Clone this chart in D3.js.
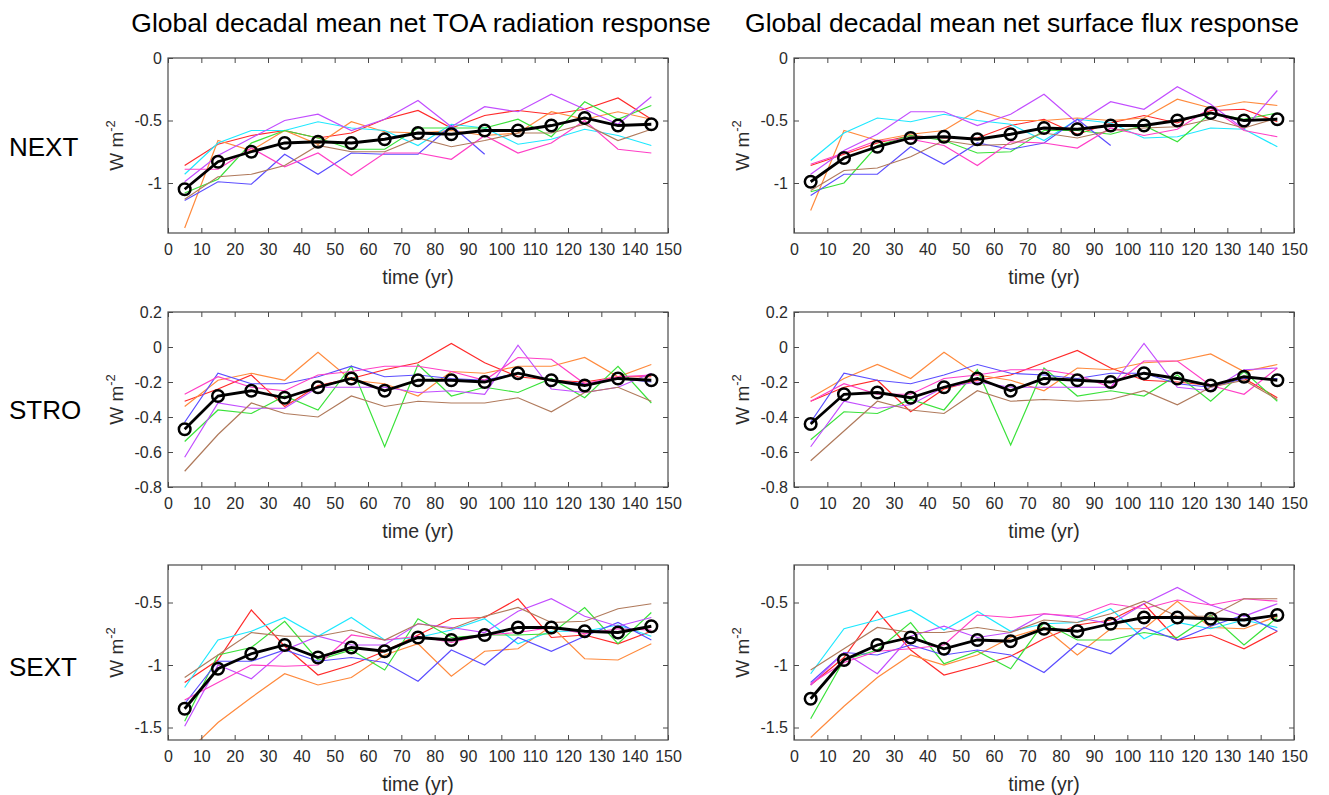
<!DOCTYPE html>
<html>
<head>
<meta charset="utf-8">
<script src="https://cdn.jsdelivr.net/npm/d3@7"></script>
<style>
body { margin: 0; background: #fff; }
text { font-family: "Liberation Sans", Arial, sans-serif; }
</style>
</head>
<body>
<svg id="chart" width="1329" height="795"></svg>
<script>
// decade midpoints
const years = [5, 15, 25, 35, 45, 55, 65, 75, 85, 95, 105, 115, 125, 135, 145];
const xTicks = [0, 10, 20, 30, 40, 50, 60, 70, 80, 90, 100, 110, 120, 130, 140, 150];
const members = ["red", "orange", "cyan", "green", "blue", "purple", "pink", "brown"];
const titles = ["Global decadal mean net TOA radiation response", "Global decadal mean net surface flux response"];
const rowNames = ["NEXT", "STRO", "SEXT"];

// NEXT, TOA
const nextToa = [
  [-0.86,-0.69,-0.62,-0.58,-0.64,-0.60,-0.49,-0.42,-0.56,-0.46,-0.42,-0.45,-0.41,-0.32,-0.49],
  [-1.36,-0.66,-0.74,-0.58,-0.69,-0.51,-0.59,-0.60,-0.58,-0.62,-0.60,-0.43,-0.49,-0.43,-0.49],
  [-0.93,-0.68,-0.58,-0.58,-0.51,-0.56,-0.58,-0.70,-0.53,-0.56,-0.69,-0.65,-0.57,-0.62,-0.70],
  [-1.08,-0.97,-0.68,-0.58,-0.64,-0.73,-0.73,-0.56,-0.56,-0.56,-0.49,-0.63,-0.35,-0.49,-0.38],
  [-1.14,-0.99,-1.01,-0.77,-0.93,-0.76,-0.77,-0.77,-0.54,-0.77,null,null,null,null,null],
  [-0.99,-0.78,-0.64,-0.50,-0.45,-0.58,-0.49,-0.34,-0.55,-0.39,-0.43,-0.29,-0.41,-0.53,-0.31],
  [-0.89,-0.89,-0.72,-0.87,-0.76,-0.94,-0.76,-0.76,-0.81,-0.62,-0.76,-0.68,-0.50,-0.73,-0.76],
  [-1.13,-0.95,-0.93,-0.86,-0.70,-0.75,-0.75,-0.64,-0.71,-0.66,-0.60,-0.60,-0.53,-0.66,-0.57]
];
const nextToaMean = [-1.05,-0.83,-0.75,-0.68,-0.67,-0.68,-0.65,-0.60,-0.61,-0.58,-0.58,-0.54,-0.48,-0.54,-0.53];

// NEXT, surface
const nextSfc = [
  [-0.86,-0.77,-0.68,-0.62,-0.64,-0.64,-0.54,-0.49,-0.61,-0.52,-0.46,-0.52,-0.42,-0.41,-0.51],
  [-1.22,-0.58,-0.66,-0.61,-0.58,-0.42,-0.50,-0.50,-0.48,-0.50,-0.48,-0.33,-0.40,-0.35,-0.38],
  [-0.82,-0.60,-0.48,-0.51,-0.45,-0.50,-0.53,-0.66,-0.49,-0.52,-0.64,-0.63,-0.56,-0.57,-0.71],
  [-1.07,-1.00,-0.70,-0.62,-0.66,-0.76,-0.75,-0.58,-0.58,-0.61,-0.54,-0.67,-0.44,-0.49,-0.44],
  [-1.10,-0.93,-0.93,-0.71,-0.85,-0.68,-0.73,-0.68,-0.49,-0.70,null,null,null,null,null],
  [-0.93,-0.74,-0.61,-0.43,-0.43,-0.54,-0.45,-0.29,-0.52,-0.35,-0.41,-0.23,-0.37,-0.57,-0.26],
  [-0.85,-0.76,-0.66,-0.65,-0.70,-0.86,-0.67,-0.68,-0.72,-0.56,-0.62,-0.57,-0.40,-0.58,-0.63],
  [-1.06,-0.90,-0.88,-0.79,-0.66,-0.70,-0.69,-0.60,-0.64,-0.58,-0.56,-0.55,-0.49,-0.56,-0.48]
];
const nextSfcMean = [-0.99,-0.80,-0.71,-0.64,-0.63,-0.65,-0.61,-0.56,-0.57,-0.54,-0.54,-0.50,-0.44,-0.50,-0.49];

// STRO, TOA (no cyan member here)
const stroToa = [
  [-0.31,-0.24,-0.16,-0.34,-0.22,-0.18,-0.13,-0.09,0.02,-0.09,-0.17,-0.19,-0.20,-0.17,-0.17],
  [-0.34,-0.19,-0.15,-0.19,-0.03,-0.19,-0.21,-0.28,-0.14,-0.15,-0.11,-0.11,-0.06,-0.17,-0.10],
  null,
  [-0.54,-0.36,-0.38,-0.28,-0.36,-0.11,-0.57,-0.10,-0.28,-0.23,-0.26,-0.18,-0.29,-0.11,-0.32],
  [-0.43,-0.15,-0.21,-0.21,-0.17,-0.11,-0.17,-0.16,-0.18,-0.19,-0.15,-0.19,-0.21,-0.18,-0.20],
  [-0.63,-0.32,-0.35,-0.35,-0.23,-0.23,-0.23,-0.26,-0.25,-0.27,0.01,-0.24,-0.26,-0.23,-0.15],
  [-0.27,-0.17,-0.23,-0.25,-0.16,-0.14,-0.11,-0.11,-0.14,-0.19,-0.06,-0.07,-0.21,-0.17,-0.16],
  [-0.71,-0.50,-0.32,-0.38,-0.40,-0.28,-0.34,-0.31,-0.32,-0.32,-0.29,-0.37,-0.26,-0.23,-0.31]
];
const stroToaMean = [-0.47,-0.28,-0.25,-0.29,-0.23,-0.18,-0.25,-0.19,-0.19,-0.20,-0.15,-0.19,-0.22,-0.18,-0.19];

// STRO, surface
const stroSfc = [
  [-0.31,-0.23,-0.19,-0.37,-0.24,-0.19,-0.16,-0.09,-0.02,-0.12,-0.19,-0.20,-0.22,-0.18,-0.29],
  [-0.29,-0.18,-0.10,-0.18,-0.03,-0.16,-0.19,-0.25,-0.12,-0.13,-0.09,-0.08,-0.04,-0.14,-0.10],
  null,
  [-0.53,-0.37,-0.38,-0.30,-0.36,-0.13,-0.56,-0.12,-0.28,-0.25,-0.28,-0.16,-0.31,-0.14,-0.31],
  [-0.43,-0.15,-0.19,-0.21,-0.16,-0.10,-0.15,-0.16,-0.18,-0.15,-0.15,-0.21,-0.23,-0.18,-0.18],
  [-0.57,-0.31,-0.35,-0.33,-0.23,-0.20,-0.23,-0.23,-0.23,-0.23,0.02,-0.23,-0.25,-0.13,-0.12],
  [-0.31,-0.21,-0.27,-0.27,-0.18,-0.16,-0.13,-0.13,-0.16,-0.23,-0.08,-0.08,-0.22,-0.27,-0.12],
  [-0.65,-0.48,-0.31,-0.36,-0.38,-0.25,-0.31,-0.30,-0.31,-0.30,-0.25,-0.33,-0.23,-0.19,-0.30]
];
const stroSfcMean = [-0.44,-0.27,-0.26,-0.29,-0.23,-0.18,-0.25,-0.18,-0.19,-0.20,-0.15,-0.18,-0.22,-0.17,-0.19];

// SEXT, TOA
const sextToa = [
  [-1.14,-0.96,-0.56,-0.85,-1.08,-1.00,-0.89,-0.76,-0.63,-0.62,-0.47,-0.78,-0.76,-0.83,-0.73],
  [-1.72,-1.46,-1.26,-1.07,-1.16,-1.10,-0.92,-0.83,-1.09,-0.89,-0.87,-0.69,-0.95,-0.96,-0.83],
  [-1.18,-0.80,-0.73,-0.62,-0.77,-0.62,-0.80,-0.78,-0.72,-0.63,-0.83,-0.73,-0.73,-0.68,-0.77],
  [-1.45,-0.92,-0.86,-0.65,-0.96,-0.88,-1.04,-0.63,-0.78,-0.76,-0.76,-0.75,-0.54,-0.83,-0.58],
  [-1.31,-0.97,-0.97,-0.88,-0.97,-0.94,-0.98,-1.13,-0.88,-1.00,-0.78,-0.89,-0.77,-0.66,-0.80],
  [-1.49,-1.00,-1.11,-0.88,-0.77,-0.84,-0.84,-0.67,-0.70,-0.74,-0.57,-0.47,-0.61,-0.69,-0.62],
  [-1.28,-1.14,-1.00,-1.01,-1.00,-0.76,-0.80,-0.77,-0.82,-0.76,-0.74,-0.70,-0.75,-0.71,-0.72],
  [-1.10,-0.92,-0.74,-0.77,-0.77,-0.72,-0.80,-0.67,-0.71,-0.61,-0.54,-0.66,-0.65,-0.55,-0.51]
];
const sextToaMean = [-1.35,-1.03,-0.91,-0.84,-0.94,-0.86,-0.89,-0.78,-0.80,-0.76,-0.70,-0.70,-0.73,-0.74,-0.69];

// SEXT, surface
const sextSfc = [
  [-1.16,-0.94,-0.57,-0.88,-1.08,-1.01,-0.93,-0.79,-0.68,-0.64,-0.51,-0.80,-0.76,-0.87,-0.73],
  [-1.58,-1.33,-1.10,-0.92,-1.00,-0.92,-0.78,-0.70,-0.92,-0.71,-0.71,-0.49,-0.70,-0.71,-0.61],
  [-1.07,-0.71,-0.64,-0.56,-0.72,-0.57,-0.73,-0.67,-0.66,-0.55,-0.79,-0.66,-0.71,-0.64,-0.70],
  [-1.43,-0.96,-0.88,-0.66,-0.99,-0.89,-1.03,-0.66,-0.80,-0.80,-0.74,-0.78,-0.60,-0.84,-0.62],
  [-1.14,-0.90,-0.92,-0.84,-0.92,-0.88,-0.92,-1.06,-0.83,-0.91,-0.70,-0.80,-0.69,-0.60,-0.73],
  [-1.16,-0.90,-1.07,-0.77,-0.69,-0.78,-0.74,-0.59,-0.62,-0.67,-0.51,-0.38,-0.52,-0.61,-0.51],
  [-1.15,-0.98,-0.89,-0.87,-0.84,-0.60,-0.62,-0.59,-0.61,-0.51,-0.55,-0.48,-0.52,-0.47,-0.49],
  [-1.04,-0.87,-0.70,-0.74,-0.74,-0.70,-0.74,-0.64,-0.66,-0.59,-0.49,-0.61,-0.61,-0.47,-0.47]
];
const sextSfcMean = [-1.27,-0.96,-0.84,-0.78,-0.87,-0.80,-0.81,-0.71,-0.73,-0.67,-0.62,-0.62,-0.63,-0.64,-0.60];

const rowTicks = [[0, -0.5, -1], [0.2, 0, -0.2, -0.4, -0.6, -0.8], [-0.5, -1, -1.5]];
const rowDomains = [[-1.4, 0], [-0.8, 0.2], [-1.6, -0.2]];

const colors = {
  red: "#ff2a2a", orange: "#ff8a3d", cyan: "#1ee8ff", green: "#3ae23a",
  blue: "#5b4dff", purple: "#c24dff", pink: "#ff3fc6", brown: "#b07a5c"
};

const svg = d3.select("#chart");
const W = 500, H = 175;
const colX = [168, 794];
const rowY = [58, 312, 565];
const axisColor = "#4a4a4a";
const textColor = "#2b2b2b";

const panels = [
  { row: 0, col: 0, runs: nextToa, mean: nextToaMean },
  { row: 0, col: 1, runs: nextSfc, mean: nextSfcMean },
  { row: 1, col: 0, runs: stroToa, mean: stroToaMean },
  { row: 1, col: 1, runs: stroSfc, mean: stroSfcMean },
  { row: 2, col: 0, runs: sextToa, mean: sextToaMean },
  { row: 2, col: 1, runs: sextSfc, mean: sextSfcMean }
];

panels.forEach((p, i) => drawPanel(p, i));

function drawPanel(p, i) {
  let g = svg.append("g").attr("transform", `translate(${colX[p.col]},${rowY[p.row]})`);
  let x = d3.scaleLinear().domain([0, 150]).range([0, W]);
  let y = d3.scaleLinear().domain(rowDomains[p.row]).range([H, 0]);

  g.append("clipPath").attr("id", "clip" + i)
    .append("rect").attr("width", W).attr("height", H);

  let plot = g.append("g").attr("clip-path", `url(#clip${i})`);
  let line = d3.line()
    .defined(d => d[1] != null)
    .x(d => x(d[0]))
    .y(d => y(d[1]));

  p.runs.forEach((run, k) => {
    if (!run) return;
    plot.append("path")
      .attr("d", line(years.map((yr, j) => [yr, run[j]])))
      .attr("fill", "none")
      .attr("stroke", colors[members[k]])
      .attr("stroke-width", 1.2);
  });

  let meanPts = years.map((yr, j) => [yr, p.mean[j]]);
  plot.append("path")
    .attr("d", line(meanPts))
    .attr("fill", "none")
    .attr("stroke", "#000")
    .attr("stroke-width", 2.8);
  plot.selectAll("circle.m").data(meanPts).enter()
    .append("circle")
    .attr("cx", d => x(d[0]))
    .attr("cy", d => y(d[1]))
    .attr("r", 5.8)
    .attr("fill", "none")
    .attr("stroke", "#000")
    .attr("stroke-width", 2.5);

  // axes, ticks pointing inward like matlab
  g.append("g").attr("transform", `translate(0,${H})`)
    .call(d3.axisBottom(x).tickValues(xTicks).tickSizeInner(-5).tickSizeOuter(0).tickPadding(11));
  g.append("g")
    .call(d3.axisLeft(y).tickValues(rowTicks[p.row]).tickSizeInner(-5).tickSizeOuter(0).tickPadding(6)
      .tickFormat(d => String(d)));
  g.append("g").call(d3.axisTop(x).tickValues(xTicks).tickSizeInner(-5).tickSizeOuter(0).tickFormat(""));
  g.append("g").attr("transform", `translate(${W},0)`)
    .call(d3.axisRight(y).tickValues(rowTicks[p.row]).tickSizeInner(-5).tickSizeOuter(0).tickFormat(""));

  g.selectAll(".domain").remove();
  g.selectAll(".tick line").attr("stroke", axisColor);
  g.selectAll(".tick text").attr("fill", textColor).style("font-size", "16px");

  g.append("rect")
    .attr("width", W).attr("height", H)
    .attr("fill", "none")
    .attr("stroke", axisColor)
    .attr("stroke-width", 1.2);

  g.append("text")
    .attr("x", W / 2).attr("y", H + 51)
    .attr("text-anchor", "middle")
    .attr("fill", textColor)
    .style("font-size", "19.5px")
    .text("time (yr)");

  let yl = g.append("text")
    .attr("transform", `translate(-45,${H / 2}) rotate(-90)`)
    .attr("text-anchor", "middle")
    .attr("fill", textColor)
    .style("font-size", "19px");
  yl.append("tspan").text("W m");
  yl.append("tspan").attr("dy", -8).style("font-size", "13px").text("-2");
}

svg.selectAll("text.title").data(titles).enter()
  .append("text")
  .attr("class", "title")
  .attr("x", (d, i) => i == 0 ? 421 : 1022)
  .attr("y", 32)
  .attr("text-anchor", "middle")
  .attr("fill", "#000")
  .style("font-size", "26.5px")
  .text(d => d);

const rowLabelY = [156, 419, 676];
svg.selectAll("text.rowname").data(rowNames).enter()
  .append("text")
  .attr("class", "rowname")
  .attr("x", 9)
  .attr("y", (d, i) => rowLabelY[i])
  .attr("fill", "#000")
  .style("font-size", "26px")
  .text(d => d);
</script>
</body>
</html>
